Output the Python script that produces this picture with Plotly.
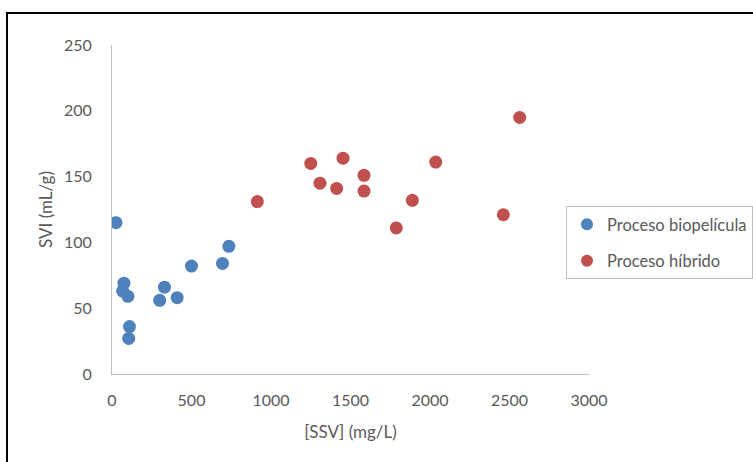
import plotly.graph_objects as go

# Data
bio_ssv = [25, 735, 500, 695, 75, 67, 100, 330, 300, 410, 110, 105]
bio_svi = [115, 97, 82, 84, 69, 63, 59, 66, 56, 58, 36, 27]

hib_ssv = [914, 1250, 1308, 1413, 1453, 1585, 1585, 1889, 1788, 2036, 2461, 2564]
hib_svi = [131, 160, 145, 141, 164, 151, 139, 132, 111, 161, 121, 195]

x_ticks = [0, 500, 1000, 1500, 2000, 2500, 3000]
y_ticks = [0, 50, 100, 150, 200, 250]

series_names = ["Proceso biopelícula", "Proceso híbrido"]
colors = ["#4F81BD", "#C0504D"]

FONT = "Lato, 'Open Sans', sans-serif"
GREY = "#595959"

fig = go.Figure()
fig.add_trace(go.Scatter(x=bio_ssv, y=bio_svi, mode="markers", name=series_names[0],
                         legendgroup="a",
                         marker=dict(color=colors[0], size=13, line=dict(width=0))))
fig.add_trace(go.Scatter(x=hib_ssv, y=hib_svi, mode="markers", name=series_names[1],
                         legendgroup="b",
                         marker=dict(color=colors[1], size=13, line=dict(width=0))))

W, H = 753, 462
L, R, T, B = 112, 164, 45, 88
pw, ph = W - L - R, H - T - B

def px_to_paper_x(px):
    return (px - L) / pw

def px_to_paper_y(py):
    return (H - B - py) / ph

fig.update_layout(
    width=W, height=H,
    margin=dict(l=L, r=R, t=T, b=B, pad=0, autoexpand=False),
    paper_bgcolor="white", plot_bgcolor="white",
    font=dict(family=FONT, size=16, color=GREY),
    showlegend=True,
    legend=dict(
        x=px_to_paper_x(566), y=px_to_paper_y(206), xanchor="left", yanchor="top",
        bordercolor="#BFBFBF", borderwidth=1, bgcolor="white",
        font=dict(family=FONT, size=16.5, color=GREY),
        tracegroupgap=12, itemsizing="constant",
    ),
    xaxis=dict(
        range=[0, 3000], tickvals=x_ticks, ticks="", showgrid=False, zeroline=False,
        showline=True, linecolor="#BFBFBF", linewidth=1,
        ticklabelstandoff=12,
        title=dict(text="[SSV] (mg/L)", font=dict(family=FONT, size=17, color=GREY), standoff=17),
        fixedrange=True,
    ),
    yaxis=dict(
        range=[0, 250], tickvals=y_ticks, ticks="", showgrid=False, zeroline=False,
        showline=True, linecolor="#BFBFBF", linewidth=1,
        ticklabelstandoff=16,
        title=dict(text="SVI (mL/g)", font=dict(family=FONT, size=17, color=GREY), standoff=7),
        fixedrange=True,
    ),
    shapes=[dict(
        type="rect", xref="paper", yref="paper",
        x0=px_to_paper_x(7), x1=px_to_paper_x(770),
        y0=px_to_paper_y(480), y1=px_to_paper_y(13),
        line=dict(color="black", width=2), fillcolor="rgba(0,0,0,0)", layer="above",
    )],
)

fig.write_html("out.html", config={"displayModeBar": False},
               post_script="document.body.style.margin='0';document.body.style.overflow='hidden';")
